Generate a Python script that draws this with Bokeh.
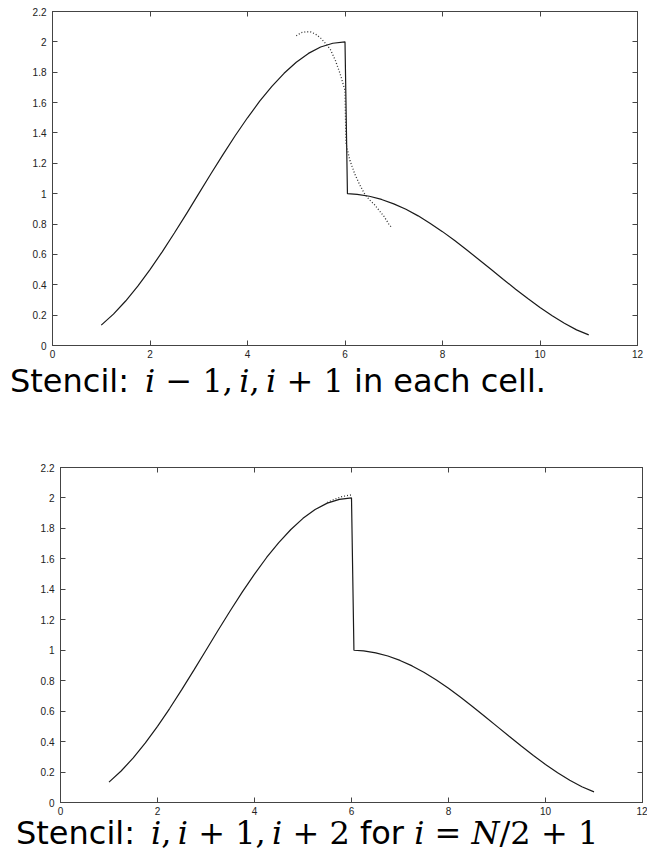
from bokeh.plotting import figure
from bokeh.models import LinearAxis, FixedTicker, CustomJSTickFormatter, Div, Range1d
from bokeh.layouts import column
from bokeh.embed import file_html
from bokeh.resources import INLINE

# ---- data ----
x_exact = [1.0, 1.25, 1.5, 1.75, 2.0, 2.25, 2.5, 2.75, 3.0, 3.25, 3.5, 3.75,
           4.0, 4.25, 4.5, 4.75, 5.0, 5.25, 5.5, 5.75, 6.0,
           6.05, 6.25, 6.5, 6.75, 7.0, 7.25, 7.5, 7.75, 8.0, 8.25, 8.5, 8.75,
           9.0, 9.25, 9.5, 9.75, 10.0, 10.25, 10.5, 10.75, 11.0]
y_exact = [0.134, 0.207, 0.293, 0.391, 0.500, 0.617, 0.741, 0.869, 1.000, 1.131, 1.259, 1.383,
           1.500, 1.609, 1.707, 1.793, 1.866, 1.924, 1.966, 1.991, 2.000,
           1.000, 0.996, 0.983, 0.962, 0.933, 0.897, 0.854, 0.804, 0.750, 0.691, 0.629, 0.565,
           0.500, 0.435, 0.371, 0.309, 0.250, 0.196, 0.146, 0.103, 0.070]

# reconstruction, stencil i-1, i, i+1 (top panel)
x_recon1 = [5.0, 5.1, 5.2, 5.3, 5.4, 5.5, 5.6, 5.7, 5.8, 5.9, 6.0,
            6.02, 6.1, 6.2, 6.3, 6.4, 6.5, 6.6, 6.7, 6.8, 6.9, 6.96]
y_recon1 = [2.04, 2.06, 2.067, 2.065, 2.05, 2.025, 1.99, 1.95, 1.88, 1.79, 1.68,
            1.33, 1.22, 1.13, 1.06, 1.00, 0.96, 0.93, 0.89, 0.85, 0.80, 0.775]

# reconstruction, stencil i, i+1, i+2 (bottom panel)
x_recon2 = [5.5, 5.6, 5.7, 5.8, 5.9, 6.0]
y_recon2 = [1.97, 1.985, 1.997, 2.008, 2.015, 2.02]

x_ticks = [0, 2, 4, 6, 8, 10, 12]
y_ticks = [0, 0.2, 0.4, 0.6, 0.8, 1, 1.2, 1.4, 1.6, 1.8, 2, 2.2]

caption1 = ("Stencil:&ensp;<span class='m'><i>i</i>&nbsp;&minus;&nbsp;1,&thinsp;<i>i</i>,&thinsp;"
            "<i>i</i>&nbsp;+&nbsp;1</span> in each cell.")
caption2 = ("Stencil:&ensp;<span class='m'><i>i</i>,&thinsp;<i>i</i>&nbsp;+&nbsp;1,&thinsp;"
            "<i>i</i>&nbsp;+&nbsp;2</span> for <span class='m'><i>i</i>&nbsp;=&nbsp;<i>N</i>/2&nbsp;+&nbsp;1</span>")

FMT = CustomJSTickFormatter(code="return String(tick)")
EMPTY = CustomJSTickFormatter(code="return ''")


def style_axis(ax, labels=True, standoff=5):
    ax.axis_line_color = "#444444"
    ax.axis_line_width = 1
    ax.major_tick_line_color = "#444444"
    ax.major_tick_in = 5
    ax.major_tick_out = 0
    ax.minor_tick_in = 0
    ax.minor_tick_out = 0
    ax.major_label_text_font = "Liberation Sans"
    ax.major_label_text_font_size = "10px"
    ax.major_label_text_color = "#222222"
    ax.major_label_standoff = standoff if labels else 0
    if not labels:
        ax.formatter = EMPTY
        ax.major_label_text_font_size = "0px"


def make_fig(bl, br, bt, bb, fw, fh, recon_x, recon_y):
    p = figure(width=bl + fw + br, height=bt + fh + bb,
               x_range=Range1d(0, 12), y_range=Range1d(0, 2.2),
               output_backend="svg", toolbar_location=None,
               min_border_left=bl, min_border_right=br,
               min_border_top=bt, min_border_bottom=bb)
    if hasattr(p, "frame_align"):
        p.frame_align = False
    p.xgrid.visible = False
    p.ygrid.visible = False
    p.outline_line_color = "#444444"
    p.background_fill_color = "white"
    p.border_fill_color = "white"
    p.xaxis.ticker = FixedTicker(ticks=x_ticks)
    p.yaxis.ticker = FixedTicker(ticks=y_ticks)
    p.xaxis.formatter = FMT
    p.yaxis.formatter = FMT
    for ax in p.xaxis:
        style_axis(ax, True, 4)
    for ax in p.yaxis:
        style_axis(ax, True, 6)
    top = LinearAxis(ticker=FixedTicker(ticks=x_ticks))
    style_axis(top, False)
    p.add_layout(top, "above")
    right = LinearAxis(ticker=FixedTicker(ticks=y_ticks))
    style_axis(right, False)
    p.add_layout(right, "right")
    p.line(x_exact, y_exact, line_color="#1a1a1a", line_width=1.2)
    p.line(recon_x, recon_y, line_color="#333333", line_width=1.3, line_dash="1 2")
    return p


CSS = ("<style>.m{font-family:'DejaVu Serif';font-size:32px;}</style>")


def make_div(html, height, pad):
    return Div(text=CSS + "<div style=\"font-family:'DejaVu Sans';font-size:32px;line-height:32px;"
               "white-space:nowrap;color:#000;padding-left:%dpx\">%s</div>" % (pad, html),
               width=640, height=height, margin=(0, 0, 0, 0))


p1 = make_fig(52, 8, 11, 20, 585, 334, x_recon1, y_recon1)
d1 = make_div(caption1, 92, 10)
p2 = make_fig(60, 5, 10, 15, 582, 335, x_recon2, y_recon2)
d2 = make_div(caption2, 35, 16)

layout = column(p1, d1, p2, d2, spacing=0)
open("out.html", "w").write(file_html(layout, INLINE))
